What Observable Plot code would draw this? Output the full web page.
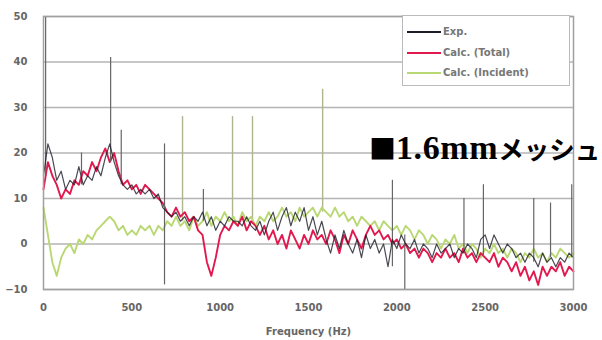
<!DOCTYPE html>
<html>
<head>
<meta charset="utf-8">
<script src="https://cdn.jsdelivr.net/npm/d3@7"></script>
<script src="https://cdn.jsdelivr.net/npm/@observablehq/plot@0.6"></script>
<style>
  body { margin: 0; background: #fff; }
  #wrap { position: relative; width: 602px; height: 340px; overflow: hidden; }
  #legend { position: absolute; left: 402px; top: 15px; width: 166px; height: 69px;
    border: 1.5px solid #bbb; background: #fff; font: bold 10px "DejaVu Sans", sans-serif; color: #777; }
  .row { position: absolute; left: 0; height: 12px; }
  .row .ln { position: absolute; left: 4px; top: 5px; width: 34px; height: 2px; }
  .row .tx { position: absolute; left: 40px; top: 0; white-space: nowrap; }
  #tag { position: absolute; left: 369px; top: 128px; white-space: nowrap; color: #000; font-weight: bold; }
  #tag .sq { font: bold 27px "Noto Sans CJK JP", sans-serif; }
  #tag .num { font: bold 34px "Liberation Serif", serif; letter-spacing: 0.6px; }
  #tag .kana { font: bold 25.5px "Noto Sans CJK JP", sans-serif; }
</style>
</head>
<body>
<div id="wrap">
  <div id="chart"></div>
  <div id="legend"></div>
  <div id="tag"><span class="sq">■</span><span class="num">1.6mm</span><span class="kana">メッシュ</span></div>
</div>
<script>
// Frequency grid (Hz), 25 Hz step
const freq = d3.range(0, 3001, 25);

const seriesNames = ["Exp.", "Calc. (Total)", "Calc. (Incident)"];
const seriesColors = ["#1c1c28", "#e2194e", "#b9d873"];

const expLevel = [15,22,19,14,16,12,14,13,17,13,15,14,17,15,19,22,18,15,13,12,
  13,11,12,11,12,10,11,8,7,6,7,5,6,4,6,5,7,4,6,3,
  5,4,6,5,5,4,6,4,3,5,2,5,7,3,6,8,4,7,5,8,
  3,6,2,5,1,-2,2,-1,3,0,-2,1,-3,2,-1,1,-2,0,-5,1,
  -1,2,0,-1,1,-2,0,-1,-3,0,-2,-1,0,-3,-1,-2,0,-1,-3,1,
  2,-1,2,0,-2,0,-1,-3,-2,-4,-2,-3,-5,-2,-4,-3,-5,-3,-4,-2,-3];

const totalLevel = [12,18,15,13,10,12,11,14,13,16,15,18,16,19,21,18,20,16,13,14,
  12,13,11,13,12,11,10,9,7,6,8,6,7,5,6,3,2,-4,-7,-3,
  2,4,3,5,4,6,3,5,4,2,4,1,3,0,2,-1,3,1,-1,2,
  0,3,1,2,0,3,1,-2,2,0,3,1,-1,2,4,2,3,1,2,0,
  1,-1,0,-2,-1,-3,-1,-2,-4,-2,-3,-1,-3,-2,-4,-1,-3,-2,-4,-2,
  -3,-4,-2,-5,-3,-4,-6,-4,-7,-5,-8,-6,-9,-5,-7,-5,-6,-4,-7,-5,-6];

const incidentLevel = [8,2,-4,-7,-3,-1,0,-2,1,0,2,1,3,4,5,6,5,3,4,2,
  3,2,4,3,4,2,4,3,5,4,6,4,5,3,6,4,5,7,4,6,
  5,7,5,6,4,7,5,6,4,6,5,7,5,6,8,6,7,5,8,6,
  7,8,6,8,7,6,8,6,7,5,6,4,6,5,4,5,3,5,4,3,
  4,2,4,3,1,3,2,0,2,1,-1,1,0,2,-1,0,-2,0,-1,-3,
  -1,-2,0,-2,-1,-3,-1,-2,-4,-2,-3,-1,-3,-2,-4,-2,-3,-1,-2,-3,-2];

// Narrow tonal peaks (Hz, low dB, high dB)
const expSpikeFreq = [12, 215, 380, 440, 685, 905, 1975, 2045, 2380, 2490, 2775, 2870, 2990];
const expSpikeLow  = [15, 13, 18, 13, -9, 5, -5, -10, -2, -3, -4, -3, -3];
const expSpikeHigh = [50, 20, 41, 25, 22, 12, 14, 2, 10, 13, 10, 9, 13];

const incSpikeFreq = [787, 1070, 1183, 1580];
const incSpikeLow  = [5, 5, 5, 7];
const incSpikeHigh = [28, 28, 28, 34];

const yTicks = [-10, 0, 10, 20, 30, 40, 50];
const xTicks = [0, 500, 1000, 1500, 2000, 2500, 3000];

const toRows = (vals) => freq.map((f, i) => ({f, v: vals[i]}));
const spikes = (fs, lo, hi) => fs.map((f, i) => ({f, lo: lo[i], hi: hi[i]}));

const chart = Plot.plot({
  width: 602,
  height: 340,
  marginLeft: 43,
  marginRight: 29,
  marginTop: 16,
  marginBottom: 51,
  style: {fontFamily: "DejaVu Sans, sans-serif", fontSize: "10px", fontWeight: "bold", color: "#666", background: "#fff"},
  x: {domain: [0, 3000]},
  y: {domain: [-10, 50]},
  marks: [
    Plot.gridY(yTicks, {stroke: "#b4b4b4", strokeOpacity: 1, strokeWidth: 1.5}),
    Plot.ruleX(spikes(incSpikeFreq, incSpikeLow, incSpikeHigh), {x: "f", y1: "lo", y2: "hi", stroke: "#b0b48e", strokeWidth: 1.4}),
    Plot.line(toRows(incidentLevel), {x: "f", y: "v", stroke: seriesColors[2], strokeWidth: 1.9}),
    Plot.line(toRows(totalLevel), {x: "f", y: "v", stroke: seriesColors[1], strokeWidth: 1.9}),
    Plot.ruleX(spikes(expSpikeFreq, expSpikeLow, expSpikeHigh), {x: "f", y1: "lo", y2: "hi", stroke: "#666", strokeWidth: 1.2}),
    Plot.line(toRows(expLevel), {x: "f", y: "v", stroke: seriesColors[0], strokeWidth: 1.2, strokeOpacity: 0.8}),
    Plot.frame({stroke: "#a0a0a0", strokeWidth: 1.5}),
    Plot.axisY(yTicks, {tickSize: 0, tickPadding: 16, label: null, fill: "#666"}),
    Plot.axisX(xTicks, {tickSize: 0, tickPadding: 14, tickFormat: (d) => String(d), label: "Frequency (Hz)", labelAnchor: "center", labelArrow: "none", labelOffset: 45, fill: "#666"})
  ]
});
document.getElementById("chart").appendChild(chart);

const legend = document.getElementById("legend");
seriesNames.forEach((name, i) => {
  const row = document.createElement("div");
  row.className = "row";
  row.style.top = (10 + i * 20.5) + "px";
  row.innerHTML = `<div class="ln" style="background:${seriesColors[i]}"></div><div class="tx">${name}</div>`;
  legend.appendChild(row);
});
</script>
</body>
</html>
